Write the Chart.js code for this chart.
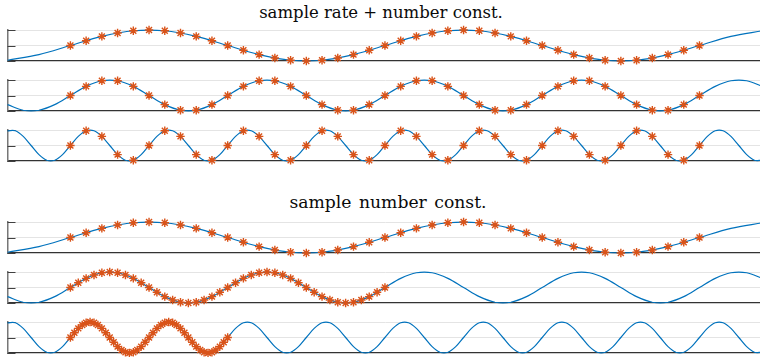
<!DOCTYPE html>
<html>
<head>
<meta charset="utf-8">
<script src="https://cdn.jsdelivr.net/npm/chart.js@4"></script>
<style>
  body { margin: 0; width: 760px; height: 357px; overflow: hidden; background: #fff; position: relative; }
  canvas { position: absolute; left: 0; }
  .title { position: absolute; width: 400px; text-align: center; font-family: "DejaVu Serif", serif;
           font-size: 16.5px; line-height: 1; color: #0a0a0a; white-space: nowrap; }
</style>
</head>
<body>
<div class="title" style="left:181px; top:5px;">sample rate + number const.</div>
<div class="title" style="left:188px; top:194px; font-size:17.2px; word-spacing:2px;">sample number const.</div>

<script>
// sample instants (x) for the three sampling grids
const timesStep1 = [0,1,2,3,4,5,6,7,8,9,10,11,12,13,14,15,16,17,18,19,20,
  21,22,23,24,25,26,27,28,29,30,31,32,33,34,35,36,37,38,39,40];
const timesStepHalf = [0,0.5,1,1.5,2,2.5,3,3.5,4,4.5,5,5.5,6,6.5,7,7.5,8,8.5,9,9.5,10,
  10.5,11,11.5,12,12.5,13,13.5,14,14.5,15,15.5,16,16.5,17,17.5,18,18.5,19,19.5,20];
const timesStepQuarter = [0,0.25,0.5,0.75,1,1.25,1.5,1.75,2,2.25,2.5,2.75,3,3.25,3.5,3.75,4,4.25,4.5,4.75,5,
  5.25,5.5,5.75,6,6.25,6.5,6.75,7,7.25,7.5,7.75,8,8.25,8.5,8.75,9,9.25,9.5,9.75,10];

// sampled values (markers)
const samplesSlow = [0,0.31,0.59,0.81,0.95,1,0.95,0.81,0.59,0.31,
  0,-0.31,-0.59,-0.81,-0.95,-1,-0.95,-0.81,-0.59,-0.31,
  0,0.31,0.59,0.81,0.95,1,0.95,0.81,0.59,0.31,
  0,-0.31,-0.59,-0.81,-0.95,-1,-0.95,-0.81,-0.59,-0.31, 0];
const samplesMid = [0,0.59,0.95,0.95,0.59,0,-0.59,-0.95,-0.95,-0.59,
  0,0.59,0.95,0.95,0.59,0,-0.59,-0.95,-0.95,-0.59,
  0,0.59,0.95,0.95,0.59,0,-0.59,-0.95,-0.95,-0.59,
  0,0.59,0.95,0.95,0.59,0,-0.59,-0.95,-0.95,-0.59, 0];
const samplesFast = [0,0.95,0.59,-0.59,-0.95, 0,0.95,0.59,-0.59,-0.95,
  0,0.95,0.59,-0.59,-0.95, 0,0.95,0.59,-0.59,-0.95,
  0,0.95,0.59,-0.59,-0.95, 0,0.95,0.59,-0.59,-0.95,
  0,0.95,0.59,-0.59,-0.95, 0,0.95,0.59,-0.59,-0.95, 0];

// continuous signals (blue lines), read along the x axis
const curveTimesSlow = [-4,-2,0,2,4,6,8,10,12,14,16,18,20,22,24,26,28,30,32,34,36,38,40,42,44];
const curveSlow = [-0.95,-0.59,0,0.59,0.95,0.95,0.59,0,-0.59,-0.95,-0.95,-0.59,
  0,0.59,0.95,0.95,0.59,0,-0.59,-0.95,-0.95,-0.59,0,0.59,0.95];

const curveTimesMid = [-4,-3,-2,-1,0,1,2,3,4,5,6,7,8,9,10,11,12,13,14,15,16,17,18,19,20,
  21,22,23,24,25,26,27,28,29,30,31,32,33,34,35,36,37,38,39,40,41,42,43,44];
const curveMid = [-0.59,-0.95,-0.95,-0.59,
  0,0.59,0.95,0.95,0.59,0,-0.59,-0.95,-0.95,-0.59,
  0,0.59,0.95,0.95,0.59,0,-0.59,-0.95,-0.95,-0.59,
  0,0.59,0.95,0.95,0.59,0,-0.59,-0.95,-0.95,-0.59,
  0,0.59,0.95,0.95,0.59,0,-0.59,-0.95,-0.95,-0.59,
  0,0.59,0.95,0.95,0.59];

const curveTimesFast = [-4,-3.5,-3,-2.5,-2,-1.5,-1,-0.5,0,0.5,1,1.5,2,2.5,3,3.5,4,4.5,5,5.5,
  6,6.5,7,7.5,8,8.5,9,9.5,10,10.5,11,11.5,12,12.5,13,13.5,14,14.5,15,15.5,
  16,16.5,17,17.5,18,18.5,19,19.5,20,20.5,21,21.5,22,22.5,23,23.5,24,24.5,25,25.5,
  26,26.5,27,27.5,28,28.5,29,29.5,30,30.5,31,31.5,32,32.5,33,33.5,34,34.5,35,35.5,
  36,36.5,37,37.5,38,38.5,39,39.5,40,40.5,41,41.5,42,42.5,43,43.5,44];
const curveFast = [0.95,0.95,0.59,0,-0.59,-0.95,-0.95,-0.59,
  0,0.59,0.95,0.95,0.59,0,-0.59,-0.95,-0.95,-0.59,
  0,0.59,0.95,0.95,0.59,0,-0.59,-0.95,-0.95,-0.59,
  0,0.59,0.95,0.95,0.59,0,-0.59,-0.95,-0.95,-0.59,
  0,0.59,0.95,0.95,0.59,0,-0.59,-0.95,-0.95,-0.59,
  0,0.59,0.95,0.95,0.59,0,-0.59,-0.95,-0.95,-0.59,
  0,0.59,0.95,0.95,0.59,0,-0.59,-0.95,-0.95,-0.59,
  0,0.59,0.95,0.95,0.59,0,-0.59,-0.95,-0.95,-0.59,
  0,0.59,0.95,0.95,0.59,0,-0.59,-0.95,-0.95,-0.59,
  0,0.59,0.95,0.95,0.59,0,-0.59,-0.95,-0.95];

const yTicks = [-1, 0, 1];
const xRange = [-4, 44];

// one entry per subplot: which line, which samples, and where it sits on the page
const panels = [
  { top: 30,  lineT: curveTimesSlow, line: curveSlow, dotT: timesStep1,       dots: samplesSlow },
  { top: 80,  lineT: curveTimesMid,  line: curveMid,  dotT: timesStep1,       dots: samplesMid },
  { top: 130, lineT: curveTimesFast, line: curveFast, dotT: timesStep1,       dots: samplesFast },
  { top: 222, lineT: curveTimesSlow, line: curveSlow, dotT: timesStep1,       dots: samplesSlow },
  { top: 272, lineT: curveTimesMid,  line: curveMid,  dotT: timesStepHalf,    dots: samplesSlow },
  { top: 322, lineT: curveTimesFast, line: curveFast, dotT: timesStepQuarter, dots: samplesSlow },
];

const PAD = 6, AREA_H = 31, WIDTH = 768;

// little inward tick marks on the y axis
const innerTicks = {
  id: 'innerTicks',
  beforeDatasetsDraw(chart) {
    const y = chart.scales.y, ctx = chart.ctx, left = chart.chartArea.left;
    ctx.save();
    ctx.strokeStyle = '#404040';
    ctx.lineWidth = 1;
    yTicks.forEach(v => {
      const py = Math.round(y.getPixelForValue(v)) + 0.5;
      ctx.beginPath();
      ctx.moveTo(left, py);
      ctx.lineTo(left + 8, py);
      ctx.stroke();
    });
    ctx.restore();
  }
};

const pairs = (xs, ys) => xs.map((x, i) => ({ x: x, y: ys[i] }));

panels.forEach(p => {
  const cv = document.createElement('canvas');
  cv.width = WIDTH;
  cv.height = AREA_H + 2 * PAD;
  cv.style.top = (p.top - PAD) + 'px';
  document.body.appendChild(cv);

  new Chart(cv, {
    type: 'scatter',
    data: {
      datasets: [
        {
          data: pairs(p.dotT, p.dots),
          pointStyle: 'star',
          pointRadius: 4.2,
          borderColor: '#D95319',
          backgroundColor: '#D95319',
          borderWidth: 1.4,
          clip: false
        },
        {
          data: pairs(p.lineT, p.line),
          showLine: true,
          pointRadius: 0,
          borderColor: '#0072BD',
          borderWidth: 1.2,
          tension: 0.35,
          clip: false
        }
      ]
    },
    options: {
      responsive: false,
      animation: false,
      events: [],
      layout: { padding: { top: PAD, bottom: PAD, left: 7.5, right: 0 } },
      plugins: { legend: { display: false }, tooltip: { enabled: false } },
      scales: {
        x: {
          type: 'linear', min: xRange[0], max: xRange[1],
          grid: { display: false },
          ticks: { display: false },
          border: { color: '#333', width: 1.2 },
          afterFit: s => { s.height = 0; }
        },
        y: {
          min: -1, max: 1,
          afterBuildTicks: s => { s.ticks = yTicks.map(v => ({ value: v })); },
          grid: {
            drawTicks: false,
            color: c => (c.tick && c.tick.value === -1) ? 'rgba(0,0,0,0)' : '#e4e4e4',
            lineWidth: 1
          },
          ticks: { display: false },
          border: { color: '#777', width: 1.5 },
          afterFit: s => { s.width = 0; }
        }
      }
    },
    plugins: [innerTicks]
  });
});
</script>
</body>
</html>
